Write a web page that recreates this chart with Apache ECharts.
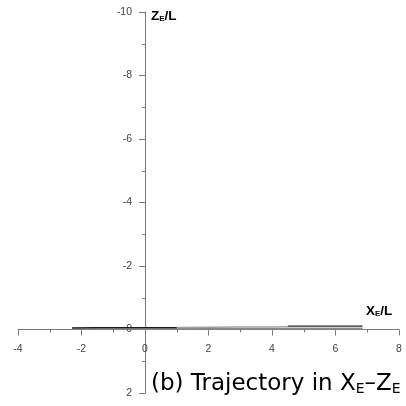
<!DOCTYPE html>
<html>
<head>
<meta charset="utf-8">
<script src="https://cdn.jsdelivr.net/npm/echarts@6/dist/echarts.min.js"></script>
<style>
  html, body { margin: 0; padding: 0; background: #fff; }
  #chart { width: 406px; height: 406px; }
</style>
</head>
<body>
<div id="chart"></div>
<script>
// Axis ranges and ticks
const xRange = [-4, 8];
const zRange = [-10, 2];
const tickStep = 2;

// Trajectory segments in the X_E - Z_E plane (x, z pairs)
const pathFlatX = [-2.3, -1, 0, 1, 2, 3, 4, 5, 6, 6.85];
const pathFlatZ = [-0.02, -0.02, -0.02, -0.02, -0.02, -0.02, -0.02, -0.02, -0.02, -0.02];
const pathEarlyX = [-2.3, -1.5, -0.5, 0, 1.0];
const pathEarlyZ = [-0.05, -0.06, -0.06, -0.06, -0.06];
const pathMidX = [1.0, 2, 3, 4, 4.6, 6.85];
const pathMidZ = [-0.06, -0.07, -0.08, -0.08, -0.09, -0.09];
const pathLateX = [4.5, 5, 6, 6.85];
const pathLateZ = [-0.11, -0.11, -0.11, -0.11];

function pairs(xs, zs) { return xs.map((x, i) => [x, zs[i]]); }

const chart = echarts.init(document.getElementById('chart'));
const axisGray = '#7a7a7a';
const labelStyle = { color: '#444', fontSize: 10.5, fontFamily: 'Liberation Sans, Arial, sans-serif' };

// plot box
const G = { left: 18, right: 7, top: 12, bottom: 13 };
const plotW = 406 - G.left - G.right;
const plotH = 406 - G.top - G.bottom;
// shift axes so they cross at the origin
const yAxisOffset = -plotW * (0 - xRange[0]) / (xRange[1] - xRange[0]);
const xAxisOffset = -plotH * (zRange[1] - 0) / (zRange[1] - zRange[0]);

function line(data, color, width) {
  return { type: 'line', data: data, showSymbol: false, symbol: 'none',
           lineStyle: { color: color, width: width }, silent: true, z: 3 };
}

chart.setOption({
  animation: false,
  grid: Object.assign({ containLabel: false, outerBoundsMode: 'none' }, G),
  xAxis: {
    type: 'value', min: xRange[0], max: xRange[1], interval: tickStep,
    position: 'bottom', offset: xAxisOffset,
    axisLine: { onZero: false, lineStyle: { color: axisGray, width: 1 } },
    axisTick: { show: true, length: 6, lineStyle: { color: axisGray } },
    minorTick: { show: true, splitNumber: 2, length: 3, lineStyle: { color: axisGray } },
    axisLabel: Object.assign({ margin: 14, showMinLabel: true, showMaxLabel: true }, labelStyle),
    splitLine: { show: false }
  },
  yAxis: {
    type: 'value', inverse: true, min: zRange[0], max: zRange[1], interval: tickStep,
    position: 'left', offset: yAxisOffset,
    axisLine: { onZero: false, lineStyle: { color: axisGray, width: 1 } },
    axisTick: { show: true, length: 6, lineStyle: { color: axisGray } },
    minorTick: { show: true, splitNumber: 2, length: 3, lineStyle: { color: axisGray } },
    axisLabel: Object.assign({ margin: 13, showMinLabel: true, showMaxLabel: true }, labelStyle),
    splitLine: { show: false }
  },
  series: [
    line(pairs(pathFlatX, pathFlatZ), '#8a8a8a', 1.5),
    line(pairs(pathMidX, pathMidZ), '#a0a0a0', 1.5),
    line(pairs(pathEarlyX, pathEarlyZ), '#1a1a1a', 1.2),
    line(pairs(pathLateX, pathLateZ), '#1a1a1a', 1.2)
  ],
  graphic: [
    {
      type: 'text', left: 151, top: 9,
      style: {
        text: '{b|Z}{s|E}{b|/L}',
        rich: {
          b: { fontSize: 13.5, fontWeight: 'bold', fill: '#000', fontFamily: 'Liberation Sans, Arial' },
          s: { fontSize: 8, fontWeight: 'bold', fill: '#000', fontFamily: 'Liberation Sans, Arial', padding: [6, 0, 0, 0] }
        }
      }
    },
    {
      type: 'text', left: 366, top: 304,
      style: {
        text: '{b|X}{s|E}{b|/L}',
        rich: {
          b: { fontSize: 13.5, fontWeight: 'bold', fill: '#000', fontFamily: 'Liberation Sans, Arial' },
          s: { fontSize: 8, fontWeight: 'bold', fill: '#000', fontFamily: 'Liberation Sans, Arial', padding: [6, 0, 0, 0] }
        }
      }
    },
    {
      type: 'text', left: 151, top: 373,
      style: {
        text: '{n|(b) Trajectory in X}{s|E}{n|\u2013Z}{s|E}',
        rich: {
          n: { fontSize: 23, fill: '#000', fontFamily: 'DejaVu Sans' },
          s: { fontSize: 14, fill: '#000', fontFamily: 'DejaVu Sans', padding: [9, 0, 0, 0] }
        }
      }
    }
  ]
});
</script>
</body>
</html>
